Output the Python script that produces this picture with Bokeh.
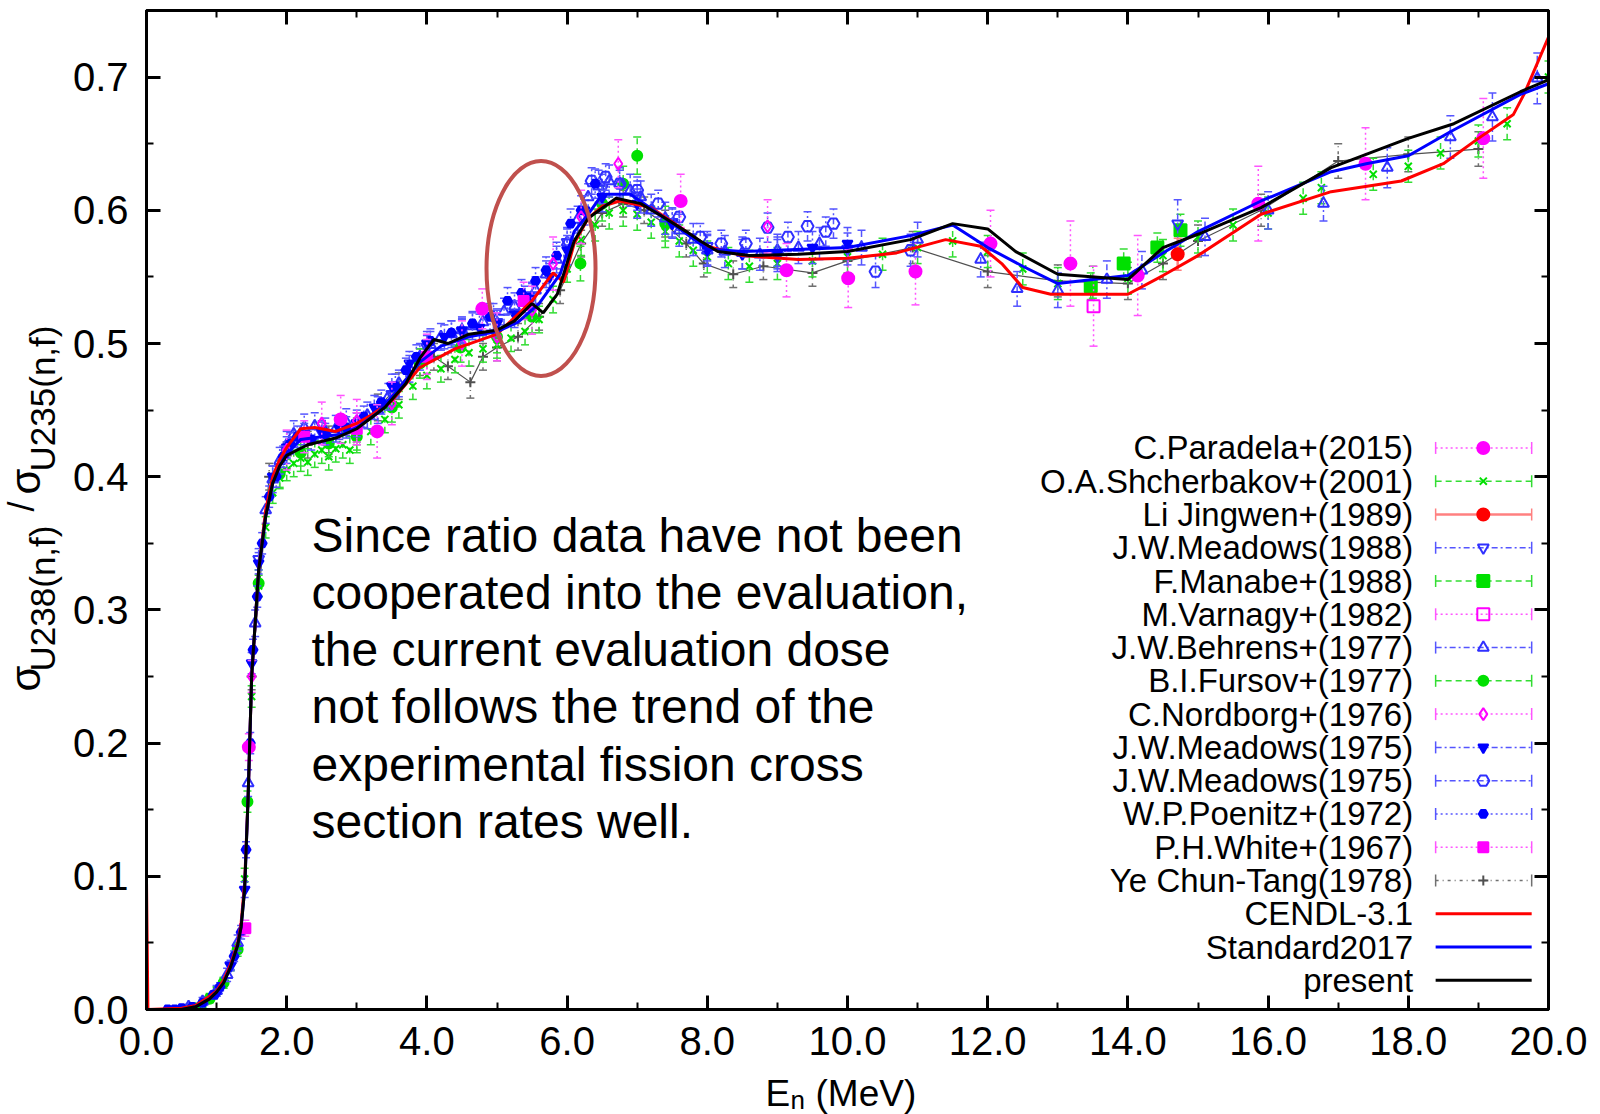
import math
import numpy as np
from bokeh.plotting import figure
from bokeh.layouts import row, column
from bokeh.models import Range1d, LinearAxis, FixedTicker, NumeralTickFormatter
from bokeh.core.properties import value
from bokeh.embed import file_html
from bokeh.resources import INLINE

FONT = "Liberation Sans"

# ---------------- evaluated curves ----------------
cendl_e = [0.0, 0.02, 0.5, 0.7, 0.9, 1.0, 1.1, 1.2, 1.3, 1.35, 1.4, 1.45, 1.5, 1.6, 1.7, 1.8, 1.9, 2.0,
           2.2, 2.4, 2.7, 3.0, 3.2, 3.5, 3.9, 4.4, 5.0, 5.5, 5.8, 5.95, 6.1, 6.3, 6.5, 6.75, 7.2, 7.7,
           8.0, 8.5, 9.3, 10.0, 10.7, 11.4, 11.9, 12.2, 12.5, 12.9, 14.0, 14.5, 15.0, 15.9, 16.9,
           17.9, 18.5, 19.0, 19.5, 19.65, 20.0]
cendl_r = [0.097, 0.0, 0.001, 0.003, 0.010, 0.014, 0.022, 0.034, 0.050, 0.065, 0.095, 0.16, 0.25,
           0.33, 0.375, 0.40, 0.413, 0.422, 0.436, 0.437, 0.434, 0.440, 0.446, 0.457, 0.482, 0.496,
           0.507, 0.532, 0.553, 0.546, 0.575, 0.594, 0.603, 0.607, 0.602, 0.584, 0.573, 0.566, 0.563,
           0.564, 0.568, 0.578, 0.573, 0.560, 0.542, 0.537, 0.537, 0.551, 0.566, 0.597, 0.614, 0.622,
           0.635, 0.654, 0.672, 0.687, 0.730]

std_e = [0.0, 0.5, 0.7, 0.9, 1.0, 1.1, 1.2, 1.3, 1.35, 1.4, 1.45, 1.5, 1.6, 1.7, 1.8, 1.9, 2.0, 2.2,
         2.5, 2.8, 3.0, 3.3, 3.6, 3.9, 4.2, 4.6, 5.0, 5.3, 5.6, 5.9, 6.1, 6.3, 6.5, 6.9, 7.1, 7.45,
         8.0, 8.5, 9.0, 10.0, 10.9, 11.5, 12.0, 12.5, 13.0, 14.0, 14.5, 15.0, 15.9, 16.9, 17.4, 18.0,
         18.6, 19.6, 20.0]
std_r = [0.0, 0.0, 0.002, 0.008, 0.013, 0.020, 0.032, 0.048, 0.062, 0.090, 0.16, 0.25, 0.33, 0.37,
         0.395, 0.408, 0.417, 0.428, 0.430, 0.432, 0.437, 0.448, 0.466, 0.486, 0.498, 0.505, 0.509,
         0.516, 0.530, 0.552, 0.584, 0.597, 0.612, 0.612, 0.605, 0.592, 0.571, 0.569, 0.570, 0.572,
         0.581, 0.589, 0.572, 0.558, 0.545, 0.551, 0.568, 0.584, 0.607, 0.629, 0.635, 0.641, 0.659,
         0.687, 0.695]

pre_e = [0.0, 0.5, 0.7, 0.9, 1.0, 1.1, 1.2, 1.3, 1.35, 1.4, 1.45, 1.5, 1.6, 1.7, 1.8, 1.9, 2.0, 2.3,
         2.7, 3.0, 3.4, 3.7, 3.9, 4.1, 4.3, 4.6, 5.0, 5.25, 5.5, 5.66, 5.86, 6.1, 6.3, 6.7, 7.05, 7.4,
         7.7, 7.9, 8.15, 8.6, 9.3, 10.0, 10.9, 11.5, 12.0, 12.4, 13.0, 14.0, 14.5, 15.0, 15.9, 16.9,
         18.0, 18.65, 19.6, 20.0]
pre_r = [0.0, 0.0, 0.002, 0.008, 0.013, 0.020, 0.032, 0.048, 0.062, 0.090, 0.16, 0.25, 0.33, 0.37,
         0.395, 0.408, 0.416, 0.424, 0.429, 0.436, 0.452, 0.470, 0.489, 0.503, 0.500, 0.507, 0.510,
         0.517, 0.530, 0.523, 0.537, 0.577, 0.594, 0.609, 0.605, 0.594, 0.584, 0.577, 0.569, 0.566,
         0.567, 0.569, 0.578, 0.590, 0.586, 0.569, 0.552, 0.548, 0.572, 0.582, 0.602, 0.632, 0.654,
         0.665, 0.689, 0.698]

# ---------------- experimental data (E, ratio, error) ----------------
par_e = [1.46, 2.77, 3.29, 4.79, 7.62, 9.13, 10.01, 10.97, 12.04, 13.18, 14.14, 15.86, 17.39, 19.07]
par_r = [0.197, 0.443, 0.434, 0.526, 0.607, 0.555, 0.549, 0.554, 0.575, 0.560, 0.551, 0.605, 0.635, 0.654]
par_d = [0.010, 0.018, 0.020, 0.015, 0.020, 0.020, 0.022, 0.025, 0.025, 0.032, 0.030, 0.028, 0.027, 0.030]

shc_e = [0.6, 0.7, 0.8, 0.9, 1.0, 1.1, 1.2, 1.3, 1.4, 1.5, 1.6, 1.7, 1.8, 1.9, 2.0, 2.1, 2.2, 2.3, 2.4,
         2.5, 2.6, 2.7, 2.8, 2.9, 3.0, 3.2, 3.4, 3.6, 3.8, 4.0, 4.2, 4.4, 4.6, 4.8, 5.0, 5.2, 5.4, 5.6,
         5.8, 6.0, 6.2, 6.4, 6.6, 6.8, 7.0, 7.2, 7.4, 7.6, 7.8, 8.0, 8.3, 8.6, 9.0, 9.5, 10.0, 10.5,
         11.0, 11.5, 12.0, 12.5, 13.0, 13.5, 14.0, 14.5, 15.0, 15.5, 16.0, 16.5, 16.76, 17.5, 18.0,
         18.46, 19.0, 19.41, 20.0]
shc_r = [0.000, 0.001, 0.004, 0.009, 0.014, 0.021, 0.032, 0.046, 0.098, 0.235, 0.318, 0.362, 0.388,
         0.399, 0.405, 0.410, 0.414, 0.411, 0.417, 0.420, 0.415, 0.421, 0.424, 0.420, 0.428, 0.434,
         0.443, 0.454, 0.468, 0.476, 0.481, 0.488, 0.493, 0.496, 0.499, 0.504, 0.509, 0.518, 0.533,
         0.556, 0.578, 0.589, 0.598, 0.600, 0.597, 0.591, 0.584, 0.577, 0.570, 0.565, 0.560, 0.558,
         0.560, 0.562, 0.565, 0.567, 0.572, 0.577, 0.569, 0.556, 0.545, 0.546, 0.549, 0.566, 0.580,
         0.589, 0.598, 0.609, 0.617, 0.627, 0.633, 0.643, 0.652, 0.665, 0.700]
shc_d = [0.003, 0.003, 0.003, 0.003, 0.003, 0.003, 0.003, 0.004, 0.008, 0.008, 0.008, 0.008, 0.008,
         0.008, 0.008, 0.010, 0.010, 0.010, 0.010, 0.010, 0.010, 0.010, 0.010, 0.010, 0.010, 0.010,
         0.010, 0.010, 0.010, 0.010, 0.010, 0.010, 0.010, 0.010, 0.010, 0.010, 0.010, 0.010, 0.010,
         0.010, 0.012, 0.012, 0.012, 0.012, 0.012, 0.012, 0.012, 0.012, 0.012, 0.012, 0.012, 0.012,
         0.012, 0.012, 0.012, 0.012, 0.012, 0.012, 0.012, 0.012, 0.012, 0.012, 0.012, 0.012, 0.012,
         0.012, 0.012, 0.012, 0.012, 0.012, 0.012, 0.012, 0.012, 0.012, 0.012]

lij_e = [14.71]
lij_r = [0.567]
lij_d = [0.012]

m88_e = [1.2, 1.6, 2.0, 2.5, 3.0, 3.5, 4.0, 4.5, 5.0, 5.5, 6.0, 6.5, 7.0, 7.5, 8.0, 9.0, 10.0, 14.71]
m88_r = [0.033, 0.338, 0.418, 0.433, 0.440, 0.462, 0.497, 0.509, 0.516, 0.536, 0.576, 0.616, 0.611,
         0.591, 0.573, 0.566, 0.571, 0.590]
m88_d = [0.004, 0.008, 0.008, 0.008, 0.008, 0.009, 0.009, 0.009, 0.010, 0.010, 0.011, 0.011, 0.011,
         0.011, 0.011, 0.012, 0.012, 0.018]

man_e = [13.47, 13.94, 14.42, 14.75]
man_r = [0.543, 0.560, 0.572, 0.585]
man_d = [0.010, 0.011, 0.011, 0.012]

var_e = [13.51]
var_r = [0.528]
var_d = [0.030]

beh_e = [0.6, 0.8, 1.0, 1.15, 1.3, 1.45, 1.55, 1.7, 1.8, 1.9, 2.0, 2.1, 2.25, 2.4, 2.55, 2.7, 2.85,
         3.0, 3.15, 3.3, 3.45, 3.6, 3.75, 3.9, 4.05, 4.2, 4.35, 4.5, 4.65, 4.8, 4.95, 5.1, 5.25, 5.4,
         5.55, 5.7, 5.85, 6.0, 6.15, 6.3, 6.45, 6.6, 6.75, 6.9, 7.05, 7.2, 7.4, 7.6, 7.8, 8.0, 8.25,
         8.5, 8.75, 9.0, 9.3, 9.6, 10.2, 11.0, 11.9, 12.42, 13.0, 13.7, 14.2, 15.1, 16.0, 16.79, 17.7,
         18.6, 19.2, 19.84]
beh_r = [0.002, 0.006, 0.014, 0.026, 0.050, 0.170, 0.290, 0.375, 0.398, 0.412, 0.424, 0.432, 0.437,
         0.438, 0.434, 0.436, 0.441, 0.440, 0.446, 0.450, 0.460, 0.470, 0.481, 0.490, 0.499, 0.505,
         0.507, 0.510, 0.513, 0.516, 0.520, 0.524, 0.528, 0.533, 0.540, 0.552, 0.563, 0.576, 0.593,
         0.610, 0.618, 0.622, 0.620, 0.615, 0.610, 0.600, 0.594, 0.585, 0.578, 0.570, 0.569, 0.568,
         0.567, 0.570, 0.572, 0.575, 0.572, 0.578, 0.563, 0.541, 0.540, 0.548, 0.555, 0.580, 0.600,
         0.605, 0.632, 0.655, 0.670, 0.699]
beh_d = [0.002, 0.003, 0.004, 0.005, 0.006, 0.010, 0.010, 0.010, 0.010, 0.010, 0.010, 0.010, 0.010,
         0.010, 0.010, 0.010, 0.010, 0.010, 0.010, 0.010, 0.010, 0.010, 0.010, 0.010, 0.010, 0.010,
         0.010, 0.010, 0.010, 0.010, 0.010, 0.010, 0.010, 0.010, 0.010, 0.010, 0.010, 0.010, 0.010,
         0.010, 0.012, 0.012, 0.012, 0.012, 0.012, 0.012, 0.012, 0.012, 0.012, 0.012, 0.012, 0.012,
         0.012, 0.012, 0.012, 0.012, 0.013, 0.013, 0.013, 0.013, 0.013, 0.014, 0.014, 0.014, 0.014,
         0.013, 0.015, 0.016, 0.018, 0.019]

fur_e = [0.7, 0.9, 1.1, 1.3, 1.44, 1.6, 1.9, 2.2, 2.6, 3.0, 3.5, 3.9, 4.48, 5.0, 5.5, 6.19, 6.5, 6.8, 7.0, 7.4]
fur_r = [0.001, 0.008, 0.020, 0.045, 0.156, 0.320, 0.402, 0.418, 0.425, 0.430, 0.452, 0.485, 0.497,
         0.505, 0.520, 0.560, 0.605, 0.620, 0.641, 0.590]
fur_d = [0.002, 0.003, 0.004, 0.005, 0.008, 0.010, 0.010, 0.010, 0.010, 0.010, 0.011, 0.011, 0.011,
         0.012, 0.012, 0.013, 0.013, 0.013, 0.014, 0.013]

nor_e = [1.5, 2.0, 2.5, 3.0, 3.5, 4.0, 4.5, 5.0, 5.5, 5.8, 6.2, 6.73, 8.86]
nor_r = [0.250, 0.420, 0.440, 0.442, 0.455, 0.490, 0.500, 0.505, 0.525, 0.560, 0.595, 0.635, 0.588]
nor_d = [0.012, 0.015, 0.016, 0.016, 0.016, 0.017, 0.017, 0.018, 0.018, 0.020, 0.020, 0.018, 0.020]

m75a_e = [1.0, 1.2, 1.4, 1.5, 1.6, 1.8, 2.0, 2.25, 2.5, 2.75, 3.0, 3.25, 3.5, 3.75, 4.0, 4.25, 4.5,
          4.75, 5.0, 5.25, 5.5, 5.75, 6.0, 6.25, 6.5, 7.0, 7.5, 8.0, 8.5, 9.0, 9.5, 10.0]
m75a_r = [0.012, 0.033, 0.090, 0.260, 0.335, 0.400, 0.422, 0.432, 0.434, 0.436, 0.440, 0.452, 0.468,
          0.485, 0.500, 0.505, 0.510, 0.512, 0.515, 0.522, 0.535, 0.550, 0.570, 0.600, 0.610, 0.605,
          0.590, 0.570, 0.567, 0.568, 0.572, 0.575]
m75a_d = [0.002, 0.003, 0.006, 0.008, 0.008, 0.008, 0.008, 0.008, 0.008, 0.008, 0.008, 0.009, 0.009,
          0.009, 0.009, 0.009, 0.009, 0.010, 0.010, 0.010, 0.010, 0.010, 0.011, 0.011, 0.011, 0.011,
          0.011, 0.011, 0.011, 0.012, 0.012, 0.012]

m75b_e = [6.35, 6.55, 6.75, 7.0, 7.3, 7.6, 7.9, 8.2, 8.55, 8.86, 9.15, 9.43, 9.69, 9.8, 10.4, 10.9]
m75b_r = [0.622, 0.625, 0.620, 0.615, 0.605, 0.595, 0.580, 0.575, 0.575, 0.587, 0.580, 0.588, 0.584,
          0.590, 0.554, 0.570]
m75b_d = [0.010, 0.010, 0.010, 0.010, 0.010, 0.010, 0.010, 0.010, 0.010, 0.011, 0.011, 0.011, 0.011,
          0.011, 0.012, 0.012]

poe_e = [0.3, 0.4, 0.5, 0.65, 0.8, 0.95, 1.05, 1.25, 1.35, 1.42, 1.48, 1.52, 1.58, 1.65, 1.75, 1.85,
         1.95, 2.05, 2.15, 2.35, 2.55, 2.85, 3.1, 3.35, 3.55, 3.7, 3.85, 4.05, 4.35, 4.65, 4.9, 5.15,
         5.35, 5.55, 5.7, 5.85, 6.05, 6.2, 6.4]
poe_r = [0.000, 0.000, 0.001, 0.002, 0.005, 0.011, 0.017, 0.040, 0.058, 0.120, 0.200, 0.270, 0.310,
         0.350, 0.385, 0.400, 0.415, 0.425, 0.430, 0.428, 0.432, 0.437, 0.445, 0.456, 0.468, 0.480,
         0.490, 0.502, 0.508, 0.515, 0.520, 0.532, 0.538, 0.547, 0.555, 0.566, 0.590, 0.600, 0.620]
poe_d = [0.001, 0.001, 0.001, 0.001, 0.002, 0.002, 0.003, 0.004, 0.005, 0.006, 0.008, 0.008, 0.008,
         0.008, 0.008, 0.008, 0.008, 0.008, 0.008, 0.008, 0.008, 0.008, 0.008, 0.009, 0.009, 0.009,
         0.009, 0.009, 0.009, 0.009, 0.010, 0.010, 0.010, 0.010, 0.010, 0.010, 0.011, 0.011, 0.011]

whi_e = [1.41, 2.25, 3.0, 4.0, 5.38]
whi_r = [0.061, 0.430, 0.436, 0.490, 0.532]
whi_d = [0.006, 0.012, 0.012, 0.013, 0.014]

ye_e = [1.5, 1.75, 2.0, 2.3, 2.6, 3.0, 3.3, 3.6, 3.9, 4.1, 4.3, 4.62, 4.8, 5.0, 5.3, 5.6, 5.9, 6.2,
        6.5, 6.8, 7.1, 7.4, 7.7, 7.95, 8.37, 8.8, 9.5, 10.0, 10.93, 12.0, 13.0, 14.0, 14.5, 15.0,
        15.9, 17.0, 18.0, 19.0]
ye_r = [0.250, 0.400, 0.416, 0.424, 0.428, 0.434, 0.452, 0.468, 0.486, 0.490, 0.483, 0.471, 0.490,
        0.497, 0.505, 0.520, 0.540, 0.575, 0.598, 0.605, 0.600, 0.590, 0.575, 0.560, 0.552, 0.558,
        0.553, 0.562, 0.572, 0.554, 0.547, 0.545, 0.560, 0.577, 0.600, 0.637, 0.642, 0.646]
ye_d = [0.010, 0.010, 0.010, 0.010, 0.010, 0.010, 0.010, 0.010, 0.010, 0.010, 0.010, 0.012, 0.010,
        0.010, 0.010, 0.010, 0.010, 0.010, 0.010, 0.010, 0.010, 0.010, 0.010, 0.010, 0.010, 0.010,
        0.010, 0.010, 0.012, 0.012, 0.012, 0.012, 0.012, 0.012, 0.012, 0.013, 0.013, 0.013]

legend_names = ["C.Paradela+(2015)", "O.A.Shcherbakov+(2001)", "Li Jingwen+(1989)",
                "J.W.Meadows(1988)", "F.Manabe+(1988)", "M.Varnagy+(1982)", "J.W.Behrens+(1977)",
                "B.I.Fursov+(1977)", "C.Nordborg+(1976)", "J.W.Meadows(1975)", "J.W.Meadows(1975)",
                "W.P.Poenitz+(1972)", "P.H.White+(1967)", "Ye Chun-Tang(1978)", "CENDL-3.1",
                "Standard2017", "present"]

note_lines = ["Since ratio data have not been", "cooperated into the evaluation,",
              "the current evaluation dose", "not follows the trend of the",
              "experimental fission cross", "section rates well."]

x_major = [0, 2, 4, 6, 8, 10, 12, 14, 16, 18, 20]
x_minor = [1, 3, 5, 7, 9, 11, 13, 15, 17, 19]
y_major = [0.0, 0.1, 0.2, 0.3, 0.4, 0.5, 0.6, 0.7]
y_minor = [0.05, 0.15, 0.25, 0.35, 0.45, 0.55, 0.65, 0.75]

# highlight ellipse (centre, width, height in data units)
ell_x, ell_y, ell_w, ell_h = [5.628], [0.5563], [1.555], [0.1613]

# ---------------- layout sizes (px) ----------------
TOTAL_W, TOTAL_H = 1600, 1114
YLAB_W = 64
XLAB_H = 42
MAIN_W = TOTAL_W - YLAB_W
MAIN_H = TOTAL_H - XLAB_H
B_TOP, B_BOTTOM = 10, 63

# ---------------- main figure ----------------
p = figure(width=MAIN_W, height=MAIN_H, x_range=Range1d(0, 20), y_range=Range1d(0, 0.75),
           output_backend="svg", toolbar_location=None,
           min_border_left=146 - YLAB_W, min_border_right=52, min_border_top=B_TOP,
           min_border_bottom=B_BOTTOM,
           background_fill_color="white", border_fill_color="white")
p.grid.visible = False
p.outline_line_color = "black"
p.outline_line_width = 3


def style_axis(ax, ticks, minors, show_labels, standoff):
    ax.ticker = FixedTicker(ticks=ticks, minor_ticks=minors)
    ax.formatter = NumeralTickFormatter(format="0.0")
    ax.axis_line_width = 3
    ax.axis_line_color = "black"
    ax.major_tick_in = 14
    ax.major_tick_out = 0
    ax.minor_tick_in = 7
    ax.minor_tick_out = 0
    ax.major_tick_line_width = 3
    ax.minor_tick_line_width = 2
    ax.major_label_text_font = FONT
    if show_labels:
        ax.major_label_text_color = "black"
        ax.major_label_text_font_size = "40px"
    else:
        ax.major_label_text_color = None
        ax.major_label_text_font_size = "1px"
    ax.major_label_standoff = standoff
    ax.axis_label = None


style_axis(p.xaxis[0], x_major, x_minor, True, 17)
style_axis(p.yaxis[0], y_major, y_minor, True, 18)
top_ax = LinearAxis()
style_axis(top_ax, x_major, x_minor, False, 0)
p.add_layout(top_ax, "above")
right_ax = LinearAxis()
style_axis(right_ax, y_major, y_minor, False, 0)
p.add_layout(right_ax, "right")

MAG, GRN, BLU, GRY = "#ff00ff", "#00e000", "#0000ff", "#505050"
MAG_E, GRN_E, BLU_E, GRY_E = "#ff55ff", "#33dd33", "#5555ff", "#707070"
DOT, DASH, DASHDOT, YEDASH = "2 3", "6 4", "6 3 2 3", "3 4 1 4"


def draw_set(e, r, d, mcol, ecol, dash, marker, size, filled, elw=1.5):
    e = np.array(e, dtype=float)
    r = np.array(r, dtype=float)
    d = np.array(d, dtype=float)
    p.segment(x0=e, y0=r - d, x1=e, y1=r + d, line_color=ecol, line_dash=dash, line_width=elw)
    p.scatter(x=e, y=r + d, marker="dash", size=8, line_color=ecol, line_width=1.5)
    p.scatter(x=e, y=r - d, marker="dash", size=8, line_color=ecol, line_width=1.5)
    p.scatter(x=e, y=r, marker=marker, size=size, line_color=mcol,
              fill_color=mcol if filled else None, line_width=2)


# Ye Chun-Tang connecting line
p.line(ye_e, ye_r, line_color=GRY, line_width=1.2)

draw_set(ye_e, ye_r, ye_d, GRY, GRY_E, YEDASH, "cross", 10, False)
draw_set(shc_e, shc_r, shc_d, GRN, GRN_E, DASH, "x", 10, False)
draw_set(fur_e, fur_r, fur_d, GRN, GRN_E, DASH, "circle", 10, True)
draw_set(man_e, man_r, man_d, GRN, GRN_E, DASH, "square", 12, True)
draw_set(beh_e, beh_r, beh_d, "#3030ff", BLU_E, DASHDOT, "triangle", 11, False)
draw_set(m88_e, m88_r, m88_d, "#3030ff", BLU_E, DASHDOT, "inverted_triangle", 11, False)
draw_set(m75a_e, m75a_r, m75a_d, BLU, BLU_E, DASHDOT, "inverted_triangle", 10, True)
draw_set(m75b_e, m75b_r, m75b_d, "#3030ff", BLU_E, DASHDOT, "hex", 12, False)
draw_set(poe_e, poe_r, poe_d, BLU, BLU_E, DOT, "hex", 9, True)
draw_set(nor_e, nor_r, nor_d, MAG, MAG_E, DOT, "diamond", 12, False)
draw_set(whi_e, whi_r, whi_d, MAG, MAG_E, DOT, "square", 10, True)
draw_set(var_e, var_r, var_d, MAG, MAG_E, DOT, "square", 12, False)
draw_set(par_e, par_r, par_d, MAG, MAG_E, DOT, "circle", 12, True)
draw_set(lij_e, lij_r, lij_d, "#ff0000", "#ff8080", "solid", "circle", 12, True, elw=2.5)

# evaluated curves on top
p.line(cendl_e, cendl_r, line_color="#ff0000", line_width=3)
p.line(std_e, std_r, line_color="#0000ff", line_width=3)
p.line(pre_e, pre_r, line_color="#000000", line_width=3)

# highlight ellipse
p.ellipse(x=ell_x, y=ell_y, width=ell_w, height=ell_h, fill_color=None,
          line_color="#c0504d", line_width=4)

# annotation text
note_x = 2.354
note_y0 = 0.3559
note_dy = 0.04291
p.text(x=[note_x] * len(note_lines), y=[note_y0 - i * note_dy for i in range(len(note_lines))],
       text=note_lines, text_font=value(FONT), text_font_size="48px", text_color="black",
       text_align="left", text_baseline="alphabetic")

# ---------------- legend (drawn manually, gnuplot style) ----------------
leg_y0 = 0.4216
leg_dy = 0.02498
leg_y = [leg_y0 - k * leg_dy for k in range(len(legend_names))]
lx_text, lx0, lx1, lxm = 18.07, 18.39, 19.76, 19.07
cap = 0.0045

p.text(x=[lx_text] * len(legend_names), y=leg_y, text=legend_names, text_font=value(FONT),
       text_font_size="33px", text_color="black", text_align="right", text_baseline="middle")

leg_styles = [
    (MAG, MAG_E, DOT, "circle", 12, True, 1.5),
    (GRN, GRN_E, DASH, "x", 10, False, 1.5),
    ("#ff0000", "#ff8080", "solid", "circle", 12, True, 2.5),
    ("#3030ff", BLU_E, DASHDOT, "inverted_triangle", 11, False, 1.5),
    (GRN, GRN_E, DASH, "square", 12, True, 1.5),
    (MAG, MAG_E, DOT, "square", 12, False, 1.5),
    ("#3030ff", BLU_E, DASHDOT, "triangle", 11, False, 1.5),
    (GRN, GRN_E, DASH, "circle", 10, True, 1.5),
    (MAG, MAG_E, DOT, "diamond", 12, False, 1.5),
    (BLU, BLU_E, DASHDOT, "inverted_triangle", 10, True, 1.5),
    ("#3030ff", BLU_E, DASHDOT, "hex", 12, False, 1.5),
    (BLU, BLU_E, DOT, "hex", 9, True, 1.5),
    (MAG, MAG_E, DOT, "square", 10, True, 1.5),
    (GRY, GRY_E, YEDASH, "cross", 10, False, 1.5),
]
for k, (mcol, ecol, dash, marker, size, filled, elw) in enumerate(leg_styles):
    yk = leg_y[k]
    p.segment(x0=[lx0], y0=[yk], x1=[lx1], y1=[yk], line_color=ecol, line_dash=dash, line_width=elw)
    p.segment(x0=[lx0, lx1], y0=[yk - cap, yk - cap], x1=[lx0, lx1], y1=[yk + cap, yk + cap],
              line_color=ecol, line_width=1.5)
    p.scatter(x=[lxm], y=[yk], marker=marker, size=size, line_color=mcol,
              fill_color=mcol if filled else None, line_width=2)

for k, col in zip([14, 15, 16], ["#ff0000", "#0000ff", "#000000"]):
    p.segment(x0=[lx0], y0=[leg_y[k]], x1=[lx1], y1=[leg_y[k]], line_color=col, line_width=3)

# ---------------- y-axis title strip (sigma ratio with subscripts) ----------------
# strip coordinates: x = px from the strip's left edge, y = -(px from the page top);
# its frame is aligned with the main frame (rows B_TOP .. MAIN_H - B_BOTTOM).
ylab = figure(width=YLAB_W, height=MAIN_H, x_range=Range1d(0, YLAB_W),
              y_range=Range1d(-(MAIN_H - B_BOTTOM), -B_TOP),
              output_backend="svg", toolbar_location=None, x_axis_type=None, y_axis_type=None,
              min_border_left=0, min_border_right=0, min_border_top=B_TOP, min_border_bottom=B_BOTTOM,
              background_fill_color="white", border_fill_color="white")
ylab.grid.visible = False
ylab.outline_line_color = None
half_pi = math.pi / 2
ylab.text(x=[25, 25], y=[-678, -481], text=["σ", "σ"], angle=half_pi,
          text_font=value(FONT), text_font_size="42px", text_color="black",
          text_align="center", text_baseline="middle")
ylab.text(x=[42, 42], y=[-598, -398], text=["U238(n,f)", "U235(n,f)"], angle=half_pi,
          text_font=value(FONT), text_font_size="35px", text_color="black",
          text_align="center", text_baseline="middle")
ylab.text(x=[21], y=[-506], text=["/"], angle=half_pi,
          text_font=value(FONT), text_font_size="36px", text_color="black",
          text_align="center", text_baseline="middle")

# ---------------- x-axis title strip ----------------
xlab = figure(width=TOTAL_W, height=XLAB_H, x_range=Range1d(0, TOTAL_W), y_range=Range1d(0, XLAB_H),
              output_backend="svg", toolbar_location=None, x_axis_type=None, y_axis_type=None,
              min_border_left=0, min_border_right=0, min_border_top=0, min_border_bottom=0,
              background_fill_color="white", border_fill_color="white")
xlab.grid.visible = False
xlab.outline_line_color = None
xlab.text(x=[765, 815], y=[21, 21], text=["E", "(MeV)"], text_font=value(FONT),
          text_font_size="37px", text_color="black", text_align="left", text_baseline="middle")
xlab.text(x=[790], y=[15], text=["n"], text_font=value(FONT),
          text_font_size="26px", text_color="black", text_align="left", text_baseline="middle")

layout = column(row(ylab, p, spacing=0), xlab, spacing=0)
open("out.html", "w").write(file_html(layout, INLINE))
